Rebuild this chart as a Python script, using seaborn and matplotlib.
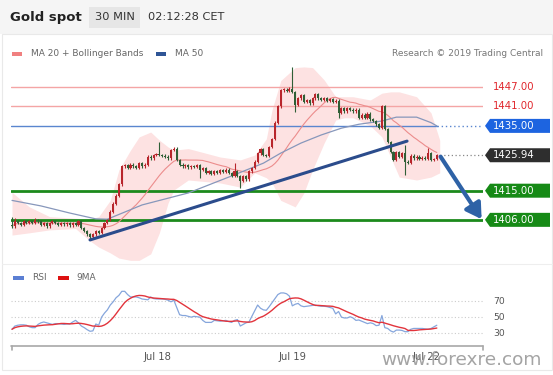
import numpy as np
import pandas as pd
import matplotlib
matplotlib.use("Agg")
import matplotlib.pyplot as plt
import matplotlib.transforms as mtransforms
from matplotlib.patches import Rectangle, Polygon
import seaborn as sns

# ---------------- data ----------------
closes = [
    1404.0, 1405.5, 1405.0, 1404.5, 1405.5, 1405.0, 1405.5, 1405.0, 1406.0, 1405.5,
    1404.5, 1405.0, 1404.0, 1405.0, 1405.5, 1405.0, 1404.5, 1405.0, 1404.6, 1405.0,
    1404.3, 1405.0, 1404.5, 1405.5, 1403.5, 1402.5, 1401.5, 1400.8, 1401.5, 1402.5,
    1402.0, 1403.5, 1405.0, 1406.0, 1408.5, 1411.0, 1413.5, 1417.0, 1422.5, 1422.8,
    1422.0, 1423.0, 1422.5, 1422.0, 1423.5, 1422.5, 1423.0, 1425.5, 1425.0, 1426.0,
    1426.2, 1426.0, 1425.8, 1425.5, 1425.0, 1427.5, 1428.0, 1424.5, 1423.0, 1422.5,
    1422.8, 1422.2, 1422.6, 1422.3, 1422.8, 1421.5, 1422.0, 1420.5, 1421.0, 1420.3,
    1421.0, 1420.5, 1421.3, 1420.8, 1421.5, 1420.5, 1419.5, 1421.0, 1419.5, 1418.0,
    1419.5, 1418.5, 1421.0, 1422.0, 1424.0, 1426.5, 1427.8, 1426.0, 1425.8, 1428.5,
    1431.0, 1436.0, 1441.0, 1446.0, 1446.2, 1445.8, 1446.5, 1445.5, 1441.5, 1443.5,
    1444.5, 1442.5, 1443.0, 1442.0, 1443.5, 1444.8, 1443.5, 1443.0, 1443.5, 1442.8,
    1443.2, 1442.5, 1442.8, 1439.0, 1440.5, 1439.5, 1440.5, 1440.0, 1439.5, 1440.0,
    1437.5, 1438.5, 1437.5, 1438.8, 1437.0, 1436.5, 1435.5, 1434.5, 1441.0, 1434.0,
    1430.0, 1427.0, 1424.5, 1427.0, 1425.5, 1426.5, 1424.0, 1423.5, 1425.8, 1425.0,
    1425.5, 1424.8, 1425.2, 1424.8, 1426.5, 1424.5, 1424.8, 1425.94]
first_open = 1404.5

hi_bars = [0, 1, 8, 51, 56, 77, 97, 128, 136, 144]
hi_vals = [1406.8, 1406.6, 1406.6, 1430.0, 1428.5, 1423.5, 1453.2, 1441.5, 1429.0, 1428.2]
lo_bars = [27, 65, 79, 98, 113, 136]
lo_vals = [1400.1, 1419.0, 1415.8, 1439.2, 1437.4, 1419.8]

rsi = [
    35, 39, 40, 40.5, 40.5, 40, 38, 37, 37, 41,
    43, 44, 43, 42, 41, 42, 42, 41.5, 41, 41.5,
    41.5, 44, 46, 43, 39, 37, 34.5, 32.5, 33, 41.5,
    40, 50, 55, 59, 65, 69, 74, 77, 82, 82,
    78, 75, 75, 75, 74, 72.5, 72, 71.5, 75, 73,
    72.5, 72.5, 72.5, 72, 71, 69, 71, 62, 53, 52,
    52, 51, 50, 51, 50.5, 50, 46, 43.5, 43.5, 43.5,
    46, 45.5, 45, 45.5, 46, 44.5, 43.5, 46, 47, 39,
    41, 43, 44, 51, 58, 65, 61, 59, 58.5, 63,
    68, 73, 78, 80, 80, 79, 76, 64, 66, 67,
    64, 63, 63.5, 64, 64.5, 65, 64, 63.5, 63.5, 63,
    62, 61, 54, 57, 50, 49, 49, 50.5, 49, 46,
    46.5, 45, 43.5, 42, 43, 42, 39.5, 40, 52, 37,
    36, 33, 31.5, 34, 34, 33.5, 32, 32, 35, 36,
    36, 36, 36, 35.5, 35, 36, 38, 40]

ma50_bars = [0, 10, 20, 29, 33, 45, 61, 75, 87, 93, 100, 107, 114, 120, 128, 133, 140, 145, 147]
ma50_vals = [1412, 1410.3, 1408.1, 1406.3, 1406.2, 1410.6, 1414.3, 1419.2, 1423.5, 1426.6,
             1429.7, 1432.2, 1434.3, 1435.5, 1436.5, 1437.7, 1437.7, 1436, 1435]

bb_bars = [0, 6, 13, 22, 27, 30, 34, 37, 41, 44, 48, 51, 54, 56, 61, 72, 79, 84, 88, 90,
           93, 98, 101, 104, 108, 112, 115, 118, 124, 128, 131, 134, 140, 145, 148]
bb_upper = [1414.5, 1410, 1407, 1406.5, 1406.2, 1407, 1412, 1421.4, 1427.5, 1431.6,
            1433.1, 1430.6, 1428.5, 1427.5, 1428, 1425.4, 1424.5, 1426, 1431, 1440,
            1449, 1453, 1453.2, 1453, 1449.2, 1444, 1444, 1444, 1443, 1445.1,
            1445.5, 1445.5, 1444, 1439, 1430.6]
bb_lower = [1401.3, 1402, 1402.9, 1403.3, 1399.5, 1397.6, 1395.8, 1394.2, 1393.5, 1393.5,
            1395.5, 1402, 1411.2, 1415.2, 1418.3, 1417.4, 1416.1, 1420.5, 1419, 1417.4,
            1412, 1410, 1414.3, 1421.4, 1429.7, 1436.8, 1437.5, 1437.5, 1435, 1431.6,
            1425.4, 1419.2, 1418.3, 1419.2, 1420.5]

resistance = [1447.0, 1441.0]
pivot = 1435.0
support = [1415.0, 1406.0]
last_price = 1425.94

trend_bars = [27.0, 136.7]
trend_vals = [1399.8, 1430.3]
arrow_from = (148.3, 1425.5)
arrow_to = (162.5, 1406.2)

tick_bars = [50.3, 96.9, 143.3]
tick_labels = ["Jul 18", "Jul 19", "Jul 22"]
rsi_levels = [70, 50, 30]

# ---------------- derived ----------------
n = len(closes)
bars = np.arange(n)
c = np.array(closes)
o = np.concatenate([[first_open], c[:-1]])
WICK = 0.4
hi = np.maximum(o, c) + WICK
lo = np.minimum(o, c) - WICK
for b, v in zip(hi_bars, hi_vals):
    hi[b] = max(hi[b], v)
for b, v in zip(lo_bars, lo_vals):
    lo[b] = min(lo[b], v)
ma20 = pd.Series(closes).rolling(20, min_periods=1).mean()
rsi_ma = pd.Series(rsi).rolling(9, min_periods=1).mean()

# ---------------- figure ----------------
sns.set_theme(style="white")
plt.rcParams["font.family"] = ["DejaVu Sans"]

W, H = 553, 375
fig = plt.figure(figsize=(W / 100, H / 100), dpi=100)
fig.patch.set_facecolor("white")

bg = fig.add_axes([0, 0, 1, 1], zorder=0)
bg.set_xlim(0, W)
bg.set_ylim(H, 0)
bg.axis("off")

# header
bg.add_patch(Rectangle((0, 0), W, 34, fc="#f5f5f5", ec="none"))
bg.add_patch(Rectangle((89, 7), 51, 21, fc="#e6e6e6", ec="none"))
bg.text(10, 17.5, "Gold spot", fontsize=9.5, fontweight="bold", color="#222222", va="center")
bg.text(95, 17.5, "30 MIN", fontsize=8.2, color="#333333", va="center")
bg.text(148, 17.5, "02:12:28 CET", fontsize=8.2, color="#333333", va="center")
# frame
bg.add_patch(Rectangle((1.5, 34), 550, 336, fc="none", ec="#e9e9e9", lw=0.8))
bg.plot([1.5, 551.5], [263.5, 263.5], color="#eeeeee", lw=0.8)

# legends
bg.add_patch(Rectangle((12, 51.5), 10, 4, fc="#f08080", ec="none"))
bg.text(31, 53.5, "MA 20 + Bollinger Bands", fontsize=6.5, color="#666666", va="center")
bg.add_patch(Rectangle((156, 51.5), 10, 4, fc="#2f5596", ec="none"))
bg.text(175, 53.5, "MA 50", fontsize=6.5, color="#666666", va="center")
bg.text(543, 53.5, "Research \u00a9 2019 Trading Central", fontsize=6.5, color="#777777",
        va="center", ha="right")
bg.add_patch(Rectangle((13, 276), 11, 3.5, fc="#5b7fd3", ec="none"))
bg.text(32, 277.8, "RSI", fontsize=6.5, color="#666666", va="center")
bg.add_patch(Rectangle((58, 276), 11, 3.5, fc="#dd1111", ec="none"))
bg.text(76, 277.8, "9MA", fontsize=6.5, color="#666666", va="center")

# ---------------- main price panel ----------------
x0, x1 = -0.346, 162.98
ax = fig.add_axes([11 / W, 1 - 262 / H, 472 / W, 200 / H], zorder=2)
ax.set_facecolor("none")
ax.set_xlim(x0, x1)
ax.set_ylim(1392.99, 1454.72)
ax.axis("off")

ax.fill_between(bb_bars, bb_lower, bb_upper, color="#fde2e2", lw=0, zorder=1)

for lv in resistance:
    ax.axhline(lv, color="#f4a5a5", lw=1.0, zorder=2)
ax.plot([x0, n - 1], [pivot, pivot], color="#5a86cf", lw=1.0, zorder=2)
ax.plot([n - 1, x1], [pivot, pivot], color="#5a86cf", lw=1.0, ls=(0, (1, 2)), zorder=2)
for lv in support:
    ax.axhline(lv, color="#1c8a1c", lw=2.0, zorder=2)
ax.plot([n, x1], [last_price, last_price], color="#888888", lw=0.9, ls=(0, (1, 2)), zorder=2)

sns.lineplot(x=bars, y=ma20, ax=ax, color="#ec8c8c", linewidth=0.8, legend=False, zorder=3)
sns.lineplot(x=ma50_bars, y=ma50_vals, ax=ax, color="#8797bb", linewidth=0.9, legend=False, zorder=3)

up = c >= o
cols = np.where(up, "#b8262c", "#2f5f36")
body_lo = np.minimum(o, c)
body_h = np.maximum(np.abs(c - o), 0.3)
ax.vlines(bars, lo, hi, colors=cols, lw=0.8, zorder=4)
ax.bar(bars, body_h, bottom=body_lo, width=0.72, color=cols, lw=0, zorder=5)

ax.plot(trend_bars, trend_vals, color="#2b4c8c", lw=2.2, solid_capstyle="round", zorder=6)
ax.annotate("", xy=arrow_to, xytext=arrow_from,
            arrowprops=dict(arrowstyle="-|>,head_length=0.75,head_width=0.45", lw=3.0,
                            color="#2e62a6", shrinkA=0, shrinkB=0),
            annotation_clip=False, zorder=7)

blend = mtransforms.blended_transform_factory(fig.transFigure, ax.transData)
hh = 7 / 3.24


def tag(price, fc, tc):
    if fc is not None:
        poly = Polygon([(485 / W, price), (490 / W, price + hh), (550 / W, price + hh),
                        (550 / W, price - hh), (490 / W, price - hh)], closed=True,
                       transform=blend, fc=fc, ec="none", clip_on=False, zorder=8)
        ax.add_patch(poly)
    ax.text(493 / W, price, f"{price:.2f}", transform=blend, color=tc, fontsize=7.3,
            va="center", ha="left", clip_on=False, zorder=9)


for lv in resistance:
    tag(lv, None, "#e0262c")
tag(pivot, "#1d64e0", "white")
tag(last_price, "#2e2e2e", "white")
for lv in support:
    tag(lv, "#168a16", "white")

# ---------------- RSI panel ----------------
rax = fig.add_axes([11 / W, 1 - 345 / H, 472 / W, 62 / H], zorder=2)
rax.set_facecolor("none")
rax.set_xlim(x0, x1)
rax.set_ylim(15.5, 92.3)
rax.axis("off")
rblend = mtransforms.blended_transform_factory(fig.transFigure, rax.transData)
for lv in rsi_levels:
    rax.axhline(lv, color="#cccccc", lw=0.8, ls=(0, (1, 2)), zorder=1)
    rax.text(493 / W, lv, str(lv), transform=rblend,
             fontsize=6.7, color="#555555", va="center", ha="left", clip_on=False)
sns.lineplot(x=bars, y=rsi, ax=rax, color="#86a6dc", linewidth=0.9, legend=False, zorder=2)
sns.lineplot(x=bars, y=rsi_ma, ax=rax, color="#e2343c", linewidth=1.0, legend=False, zorder=3)

bg.plot([11, 483], [345.5, 345.5], color="#a8a8a8", lw=1.2, zorder=1)
bg.plot([11.5, 11.5], [345.5, 349.5], color="#a8a8a8", lw=1.2)
bg.plot([482.5, 482.5], [345.5, 349.5], color="#a8a8a8", lw=1.2)
for b, lab in zip(tick_bars, tick_labels):
    rax.text(b, -0.19, lab, transform=rax.get_xaxis_transform(), ha="center", va="center",
             fontsize=7.2, color="#555555", clip_on=False)

# watermark (overlaps the last date label, as in the reference)
fig.text(461.5 / W, 1 - 360 / H, "www.forexre.com", fontsize=13.3, color="#9a9a9a", alpha=0.9,
         ha="center", va="center", zorder=10)

fig.savefig("out.png", dpi=100)
